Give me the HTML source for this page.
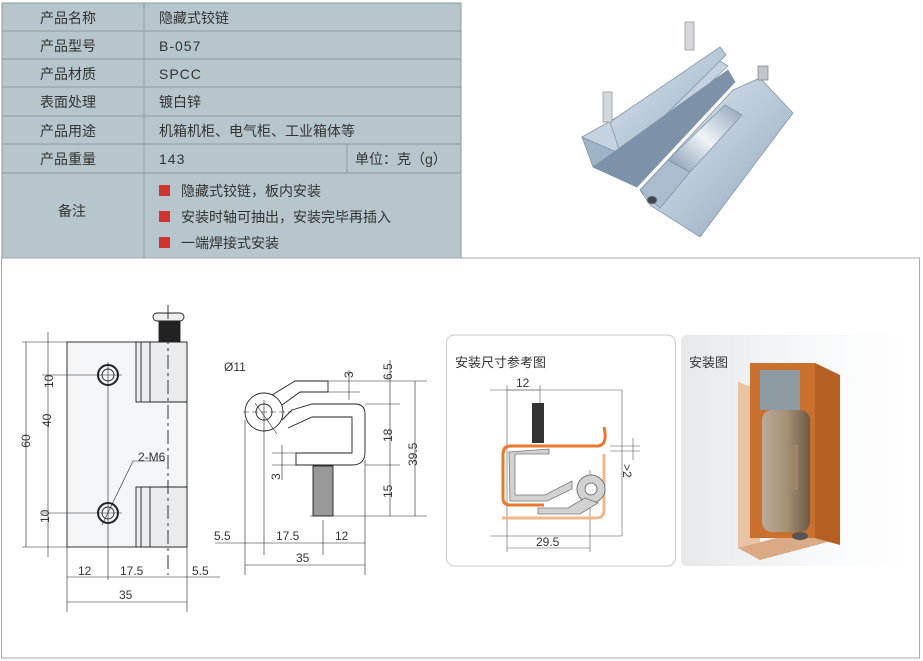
<!DOCTYPE html>
<html><head><meta charset="utf-8"><style>
body{margin:0;width:923px;height:661px;background:#fff;overflow:hidden;font-family:"Liberation Sans","Noto Sans CJK SC",sans-serif}
svg{position:absolute;left:0;top:0}
.t{font-family:"Liberation Sans","Noto Sans CJK SC",sans-serif;font-size:14px;fill:#333}
.d{font-family:"Liberation Sans",sans-serif;font-size:12px;fill:#333}
</style></head><body>
<svg width="923" height="661" viewBox="0 0 923 661">
<defs>
<linearGradient id="mg" x1="0" x2="1" y1="0" y2="1"><stop offset="0" stop-color="#dfe7ee"/><stop offset=".5" stop-color="#b9c9d8"/><stop offset="1" stop-color="#8ea4ba"/></linearGradient>
<linearGradient id="cy" x1="0" x2="1" y1="1" y2="0"><stop offset="0" stop-color="#7f96ad"/><stop offset=".5" stop-color="#f0f4f8"/><stop offset="1" stop-color="#8ea2b7"/></linearGradient>
<linearGradient id="bg2" x1="0" x2="1"><stop offset="0" stop-color="#e6e8ea"/><stop offset=".6" stop-color="#f8f9fa"/><stop offset="1" stop-color="#fff"/></linearGradient>
<linearGradient id="hg" x1="0" x2="1"><stop offset="0" stop-color="#b8ab98"/><stop offset=".5" stop-color="#a69276"/><stop offset="1" stop-color="#6e5a44"/></linearGradient>
</defs>
<!-- table -->
<rect x="2" y="3" width="459" height="255" fill="#b7c5cd"/>
<g stroke="#8c9aa2" stroke-width="1" fill="none">
<rect x="2" y="3" width="459" height="255"/>
<line x1="2" y1="31" x2="461" y2="31"/><line x1="2" y1="59" x2="461" y2="59"/><line x1="2" y1="87" x2="461" y2="87"/><line x1="2" y1="116" x2="461" y2="116"/><line x1="2" y1="144" x2="461" y2="144"/><line x1="2" y1="173" x2="461" y2="173"/>
<line x1="144" y1="3" x2="144" y2="258"/><line x1="347" y1="144" x2="347" y2="173"/>
</g>
<g class="t">
<text x="40" y="23">产品名称</text><text x="40" y="51">产品型号</text><text x="40" y="79">产品材质</text><text x="40" y="107">表面处理</text><text x="40" y="136">产品用途</text><text x="40" y="164">产品重量</text><text x="58" y="216">备注</text>
<text x="159" y="23">隐藏式铰链</text><text x="159" y="51" letter-spacing="1">B-057</text><text x="159" y="79" letter-spacing="1">SPCC</text><text x="159" y="107">镀白锌</text><text x="159" y="136">机箱机柜、电气柜、工业箱体等</text><text x="159" y="164" letter-spacing="1">143</text><text x="355" y="164">单位：克（g）</text>
<text x="181" y="196">隐藏式铰链，板内安装</text><text x="181" y="222">安装时轴可抽出，安装完毕再插入</text><text x="181" y="248">一端焊接式安装</text>
</g>
<rect x="159" y="185" width="11" height="11" fill="#d0342c"/><rect x="159" y="211" width="11" height="11" fill="#d0342c"/><rect x="159" y="237" width="11" height="11" fill="#d0342c"/>
<!-- photo -->
<g stroke="#8196ab" stroke-width=".8">
<polygon points="582,137 630,158 637,187 593,167" fill="#9fb3c7"/>
<polygon points="582,137 718,60 728,66 630,158" fill="#c5d3e0"/>
<polygon points="610,122 720,47 726,55 622,158" fill="url(#mg)"/>
<polygon points="593,167 637,187 735,82 728,70" fill="#7d92a8"/>
<rect x="685" y="22" width="9" height="28" fill="#d4d8dc" stroke="#999"/>
<rect x="603" y="92" width="9" height="30" fill="#d4d8dc" stroke="#999"/>
<polygon points="640,190 733,90 760,78 793,113 700,237 650,205" fill="url(#mg)"/>
<polygon points="668,160 725,105 742,115 690,172" fill="url(#cy)"/>
<polygon points="640,190 668,160 690,172 660,208" fill="#aabccd"/>
<rect x="758" y="66" width="10" height="14" fill="#c0c7cd" stroke="#888"/>
<ellipse cx="652" cy="200" rx="5" ry="4" fill="#445"/>
</g>
<!-- lower frame -->
<rect x="1.5" y="258" width="918" height="400" fill="none" stroke="#aaa"/>
<!-- left drawing -->
<g stroke="#222" stroke-width="0.9" fill="none">
<rect x="67" y="342" width="120" height="205" fill="#f4f5f6"/>
<rect x="136" y="342" width="51" height="60" fill="#e9ebed"/><rect x="136" y="487" width="51" height="60" fill="#e9ebed"/>
<line x1="141" y1="342" x2="141" y2="402"/><line x1="150" y1="342" x2="150" y2="402"/><line x1="141" y1="487" x2="141" y2="547"/><line x1="150" y1="487" x2="150" y2="547"/>
<line x1="150" y1="402" x2="187" y2="402"/><line x1="150" y1="487" x2="187" y2="487"/>
<rect x="159" y="320" width="21" height="22" fill="#222"/><rect x="153" y="313" width="31" height="8" rx="4" fill="#eee"/>
<line x1="168" y1="305" x2="168" y2="575" stroke-dasharray="14 4 3 4"/>
<circle cx="108" cy="375" r="10" stroke-width="2"/><circle cx="108" cy="375" r="6"/>
<circle cx="108" cy="513" r="10" stroke-width="2"/><circle cx="108" cy="513" r="6"/>
<line x1="42" y1="375" x2="122" y2="375" stroke-width=".6"/><line x1="42" y1="513" x2="122" y2="513" stroke-width=".6"/>
<line x1="108" y1="362" x2="108" y2="580" stroke-width=".6"/>
<line x1="22" y1="342" x2="67" y2="342" stroke-width=".6"/><line x1="22" y1="547" x2="67" y2="547" stroke-width=".6"/>
<line x1="26" y1="342" x2="26" y2="547" stroke-width=".6"/><line x1="48" y1="332" x2="48" y2="557" stroke-width=".6"/>
<line x1="67" y1="547" x2="67" y2="612" stroke-width=".6"/><line x1="187" y1="547" x2="187" y2="612" stroke-width=".6"/>
<line x1="67" y1="577" x2="220" y2="577" stroke-width=".6"/><line x1="67" y1="602" x2="187" y2="602" stroke-width=".6"/>
<polyline points="102,525 133,461 165,461" stroke-width=".6"/>
</g>
<g class="d">
<text x="25" y="372" transform="rotate(-90 47 366)">10</text>
<text x="30" y="441" transform="rotate(-90 30 441)" text-anchor="middle">60</text>
<text x="52" y="436" transform="rotate(-90 47 432)">40</text>
<text x="52" y="530" transform="rotate(-90 47 528)">10</text>
<text x="138" y="461">2-M6</text>
<text x="78" y="575">12</text><text x="120" y="575">17.5</text><text x="192" y="575">5.5</text><text x="119" y="599">35</text>
</g>
<!-- right drawing -->
<g stroke="#222" stroke-width="0.9" fill="none">
<circle cx="264" cy="412" r="19" fill="#fff"/><circle cx="264" cy="412" r="8"/>
<path d="M272,395 L295,381 L328,381 L328,392 L300,392 L282,405"/>
<path d="M282,420 L292,410 L312,404 L355,404 Q365,404 365,414 L365,452 Q365,465 352,465 L296,465 L296,453 L352,453 L352,417 L312,417 L288,428"/>
<rect x="313" y="466" width="20" height="50" fill="#999"/>
<line x1="255" y1="403" x2="277" y2="434" stroke-width=".6"/>
<line x1="243" y1="412" x2="292" y2="412" stroke-width=".6" stroke-dasharray="6 3"/>
<line x1="264" y1="400" x2="264" y2="555" stroke-width=".6"/>
<line x1="245" y1="420" x2="245" y2="575" stroke-width=".6"/><line x1="365" y1="460" x2="365" y2="575" stroke-width=".6"/>
<line x1="323" y1="520" x2="323" y2="555" stroke-width=".6"/>
<line x1="215" y1="543" x2="365" y2="543" stroke-width=".6"/><line x1="245" y1="565" x2="365" y2="565" stroke-width=".6"/>
<line x1="328" y1="381" x2="427" y2="381" stroke-width=".6"/><line x1="328" y1="392" x2="360" y2="392" stroke-width=".6"/>
<line x1="365" y1="404" x2="400" y2="404" stroke-width=".6"/><line x1="365" y1="465" x2="400" y2="465" stroke-width=".6"/>
<line x1="310" y1="516" x2="427" y2="516" stroke-width=".6"/>
<line x1="390" y1="360" x2="390" y2="516" stroke-width=".6"/><line x1="415" y1="381" x2="415" y2="516" stroke-width=".6"/>
<line x1="349" y1="370" x2="349" y2="400" stroke-width=".6"/><line x1="282" y1="445" x2="282" y2="480" stroke-width=".6"/>
<line x1="272" y1="453" x2="296" y2="453" stroke-width=".6"/><line x1="272" y1="465" x2="296" y2="465" stroke-width=".6"/>
</g>
<g class="d">
<text x="224" y="371">Ø11</text>
<text x="0" y="0" transform="translate(353,378) rotate(-90)">3</text>
<text x="0" y="0" transform="translate(392,380) rotate(-90)">6.5</text>
<text x="0" y="0" transform="translate(392,442) rotate(-90)">18</text>
<text x="0" y="0" transform="translate(417,466) rotate(-90)">39.5</text>
<text x="0" y="0" transform="translate(392,498) rotate(-90)">15</text>
<text x="0" y="0" transform="translate(280,480) rotate(-90)">3</text>
<text x="214" y="540">5.5</text><text x="276" y="540">17.5</text><text x="335" y="540">12</text><text x="296" y="562">35</text>
</g>
<!-- install panels -->
<rect x="446.5" y="335" width="229" height="231" rx="8" fill="#fff" stroke="#ccc"/>
<rect x="681" y="335" width="229" height="231" rx="6" fill="url(#bg2)"/>
<text class="t" x="455" y="367" style="font-size:13px">安装尺寸参考图</text>
<text class="t" x="689" y="367" style="font-size:13px">安装图</text>
<g stroke="#555" stroke-width=".6" fill="none">
<line x1="490" y1="390" x2="622" y2="390"/><line x1="622" y1="390" x2="622" y2="536"/><line x1="490" y1="536" x2="622" y2="536"/>
<line x1="507" y1="385" x2="507" y2="552"/><line x1="540" y1="385" x2="540" y2="440"/><line x1="590" y1="470" x2="590" y2="552"/>
<line x1="507" y1="390" x2="540" y2="390"/><line x1="507" y1="548" x2="590" y2="548"/>
<line x1="610" y1="446" x2="640" y2="446"/><line x1="610" y1="451" x2="640" y2="451"/><line x1="633" y1="438" x2="633" y2="460"/>
</g>
<rect x="532" y="403" width="12" height="40" fill="#333"/>
<path d="M604,427 Q608,445 598,446 L510,446 Q503,446 503,455 L503,498 Q503,505 510,505 L544,505" stroke="#e8792e" stroke-width="3" fill="none"/>
<path d="M604,454 L604,510 Q604,518 596,518 L502,518" stroke="#f0b88a" stroke-width="3" fill="none"/>
<path d="M549,449 L549,454 L515,454 L515,495 L545,495 L572,481 L572,489 L547,501 L510,501 L509,452 Z" fill="#d2d2d2" stroke="#777" stroke-width=".8"/>
<circle cx="591" cy="489" r="14" fill="#d2d2d2" stroke="#777"/><circle cx="591" cy="489" r="6" fill="#fff" stroke="#777"/>
<polygon points="538,508 568,508 585,498 598,503 580,514 538,514" fill="#d2d2d2" stroke="#777" stroke-width=".8"/>
<g class="d"><text x="516" y="387">12</text><text x="536" y="546">29.5</text><text x="0" y="0" transform="translate(623,464) rotate(90)">&gt;2</text></g>
<!-- 3D -->
<polygon points="738,382 760,390 760,560 738,548" fill="#e7b98f" opacity=".8"/>
<polygon points="738,548 760,560 835,540 815,528" fill="#d9aa84"/>
<rect x="750" y="363" width="65" height="175" fill="#c9702f"/>
<polygon points="815,363 840,375 840,545 815,538" fill="#b55f22"/>
<rect x="760" y="370" width="40" height="40" fill="#8f9ba3"/>
<rect x="762" y="410" width="48" height="122" rx="10" fill="url(#hg)"/>
<rect x="790" y="445" width="8" height="45" fill="#9d8669"/>
<ellipse cx="800" cy="536" rx="8" ry="4" fill="#555"/>
</svg>
</body></html>
